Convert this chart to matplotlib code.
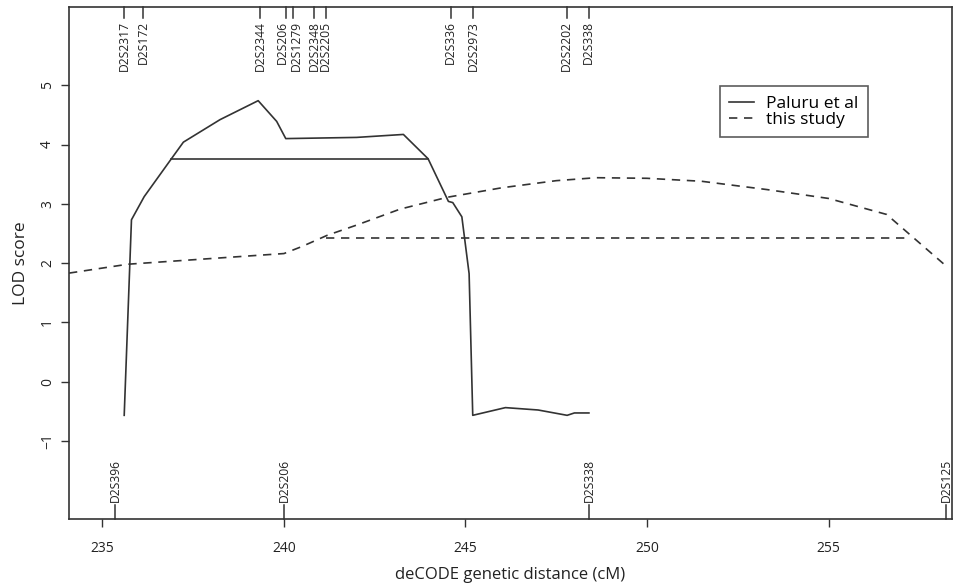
import matplotlib
matplotlib.use("Agg")
import matplotlib.pyplot as plt
import matplotlib.transforms as mtransforms

plt.rcParams['font.family'] = ['Open Sans', 'DejaVu Sans']

# Paluru et al (solid)
paluru_cm = [235.6, 235.8, 236.15, 236.9, 237.23, 238.24, 239.29, 239.8, 240.05,
             242.0, 243.29, 243.97, 244.53, 244.65, 244.9, 245.1, 245.2,
             246.1, 247.0, 247.8, 248.0, 248.4]
paluru_lod = [-0.57, 2.73, 3.12, 3.76, 4.04, 4.42, 4.74, 4.39, 4.10,
              4.12, 4.17, 3.76, 3.04, 3.02, 2.78, 1.82, -0.57,
              -0.44, -0.48, -0.57, -0.53, -0.53]
paluru_ci = [236.9, 243.97]
paluru_ci_lod = 3.75

# this study (dashed)
study_cm = [234.08, 235.7, 240.0, 240.5, 241.2, 242.0, 243.2, 244.5, 246.0,
            247.5, 248.6, 250.0, 251.5, 253.3, 255.0, 256.6, 258.2]
study_lod = [1.83, 1.98, 2.16, 2.28, 2.47, 2.64, 2.91, 3.11, 3.27,
             3.39, 3.44, 3.43, 3.38, 3.24, 3.09, 2.82, 1.97]
study_ci = [241.15, 257.25]
study_ci_lod = 2.43

# markers
top_markers = ["D2S2317", "D2S172", "D2S2344", "D2S206", "D2S1279", "D2S2348",
               "D2S2205", "D2S336", "D2S2973", "D2S2202", "D2S338"]
top_pos = [235.60, 236.12, 239.34, 240.05, 240.26, 240.83, 241.15,
           244.59, 245.21, 247.79, 248.39]
bottom_markers = ["D2S396", "D2S206", "D2S338", "D2S125"]
bottom_pos = [235.36, 240.0, 248.41, 258.24]

x_ticks = [235, 240, 245, 250, 255]
y_ticks = [-1, 0, 1, 2, 3, 4, 5]

col = '#333333'
fig = plt.figure(figsize=(9.79, 5.87), dpi=100)
ax = fig.add_axes([0.0705, 0.1158, 0.9019, 0.8722])

ax.plot(paluru_cm, paluru_lod, color=col, lw=1.2, label='Paluru et al')
ax.plot(paluru_ci, [paluru_ci_lod] * 2, color=col, lw=1.2)
ax.plot(study_cm, study_lod, color=col, lw=1.2, ls=(0, (5, 4)), label='this study')
ax.plot(study_ci, [study_ci_lod] * 2, color=col, lw=1.2, ls=(0, (5, 4)))

ax.set_xlim(234.08, 258.4)
ax.set_ylim(-2.32, 6.32)
ax.set_xticks(x_ticks)
ax.set_yticks(y_ticks)
ax.tick_params(axis='both', direction='out', length=6, width=1, colors=col,
               labelsize=10, labelcolor='#222222')
ax.tick_params(axis='x', pad=10)
ax.tick_params(axis='y', pad=4)
for lab in ax.get_yticklabels():
    lab.set_rotation(90)
    lab.set_va('center')
for sp in ax.spines.values():
    sp.set_color(col)
    sp.set_linewidth(1.2)

ax.set_xlabel('deCODE genetic distance (cM)', fontsize=12, color='#222222', labelpad=8)
ax.set_ylabel('LOD score', fontsize=12.5, color='#222222', labelpad=8)

trans = mtransforms.blended_transform_factory(ax.transData, ax.transAxes)
tick_h = 0.022
# small sideways nudges (points) so the two crowded labels don't collide
nudge = {"D2S206": -2.3, "D2S1279": 1.9}
for name, pos in zip(top_markers, top_pos):
    ax.plot([pos, pos], [1, 1 - tick_h], color=col, lw=1.1, transform=trans, clip_on=False)
    ax.annotate(name, (pos, 1 - tick_h), xycoords=trans,
                xytext=(nudge.get(name, 0), -2), textcoords='offset points',
                rotation=90, ha='center', va='top', fontsize=8.7, color='#222222')
for name, pos in zip(bottom_markers, bottom_pos):
    ax.plot([pos, pos], [0, tick_h + 0.006], color=col, lw=1.1, transform=trans, clip_on=False)
    ax.text(pos, tick_h + 0.012, name, rotation=90, ha='center', va='bottom',
            fontsize=8.7, color='#222222', transform=trans)

leg = ax.legend(loc='upper left', bbox_to_anchor=(0.737, 0.846), frameon=True,
                fancybox=False, fontsize=12.5, handlelength=1.4, handletextpad=0.7,
                borderpad=0.55, labelspacing=0.0, borderaxespad=0)
leg.get_frame().set_edgecolor(col)
leg.get_frame().set_linewidth(1.2)

fig.savefig('out.png', dpi=100)
